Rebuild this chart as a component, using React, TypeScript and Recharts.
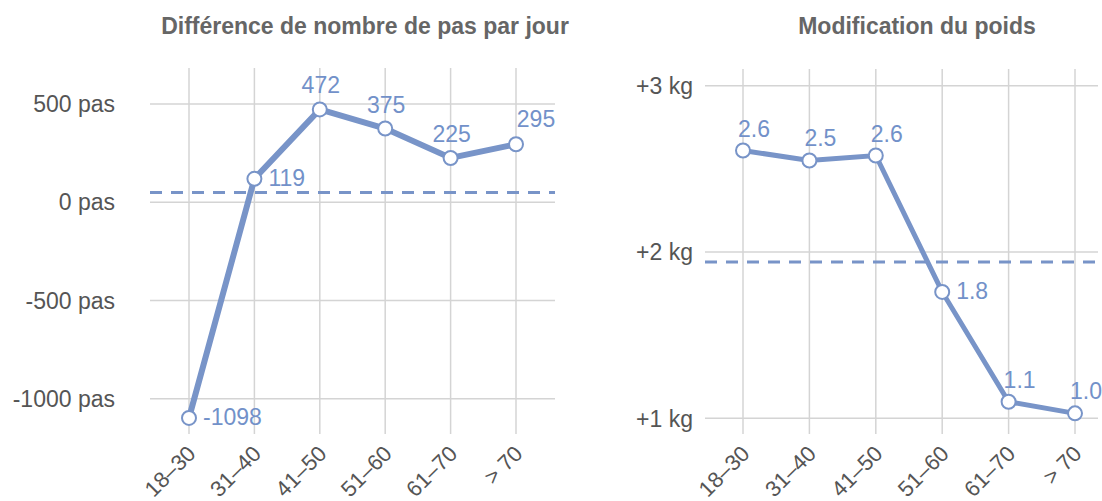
import { LineChart, Line, XAxis, YAxis, ReferenceLine, LabelList } from 'recharts';

const ageGroups = ['18–30', '31–40', '41–50', '51–60', '61–70', '> 70'];
const stepDiff = [-1098, 119, 472, 375, 225, 295];
const stepLabels = ['-1098', '119', '472', '375', '225', '295'];
const stepAvg = 49;
const stepTicks = [-1000, -500, 0, 500];

const weightDiff = [2.61, 2.55, 2.58, 1.76, 1.1, 1.03];
const weightLabels = ['2.6', '2.5', '2.6', '1.8', '1.1', '1.0'];
const weightAvg = 1.94;
const weightTicks = [1, 2, 3];

// where each value label sits relative to its dot
const stepPlacement = ['right', 'right', 'top', 'top', 'top', 'topRightFar'];
const weightPlacement = ['topRight', 'topRight', 'topRight', 'right', 'topRight', 'topRight'];

const BLUE = '#7894c8';
const LABEL_BLUE = '#7291c9';
const GRID = '#d4d4d4';
const TEXT = '#555';
const FONT = '"Liberation Sans", Arial, Helvetica, sans-serif';

const stepData = ageGroups.map((g, i) => ({ group: g, value: stepDiff[i] }));
const weightData = ageGroups.map((g, i) => ({ group: g, value: weightDiff[i] }));

const offsets: Record<string, { dx: number; dy: number; anchor: 'start' | 'middle' }> = {
  right: { dx: 14, dy: 7, anchor: 'start' },
  top: { dx: 1, dy: -16, anchor: 'middle' },
  topRight: { dx: 11, dy: -14, anchor: 'middle' },
  topRightFar: { dx: 20, dy: -17, anchor: 'middle' },
};

function makeLabel(labels: string[], placement: string[]) {
  return (props: any) => {
    const { x, y, index } = props;
    const o = offsets[placement[index]];
    return (
      <text
        x={x + o.dx}
        y={y + o.dy}
        textAnchor={o.anchor}
        fill={LABEL_BLUE}
        fontSize={23}
        fontFamily={FONT}
      >
        {labels[index]}
      </text>
    );
  };
}

function AgeTick(props: any) {
  const { x, y, payload } = props;
  return (
    <g transform={`translate(${x + 8},${y + 13})`}>
      <text
        x={0}
        y={0}
        textAnchor="end"
        transform="rotate(-45)"
        fill={TEXT}
        fontSize={22}
        fontFamily={FONT}
      >
        {payload.value}
      </text>
    </g>
  );
}

const titleStyle = {
  position: 'absolute' as const,
  top: 13,
  fontFamily: FONT,
  fontWeight: 700,
  fontSize: 23,
  color: '#666',
  whiteSpace: 'nowrap' as const,
  transform: 'translateX(-50%)',
};

function gridLines(ticks: number[]) {
  return [
    ...ticks.map((t) => <ReferenceLine key={`h${t}`} y={t} stroke={GRID} strokeWidth={1.5} />),
    ...ageGroups.map((g) => <ReferenceLine key={`v${g}`} x={g} stroke={GRID} strokeWidth={1.5} />),
  ];
}

export default function App() {
  return (
    <div style={{ position: 'absolute', left: 0, top: 0, width: 1102, height: 501, background: '#fff' }}>
      <div style={{ ...titleStyle, left: 365 }}>Différence de nombre de pas par jour</div>
      <div style={{ ...titleStyle, left: 917 }}>Modification du poids</div>

      <div style={{ position: 'absolute', left: 0, top: 0 }}>
        <LineChart width={570} height={501} data={stepData} margin={{ top: 68, right: 15, bottom: 7, left: 10 }}>
          <XAxis
            dataKey="group"
            axisLine={false}
            tickLine={false}
            height={60}
            padding={{ left: 39, right: 39 }}
            tick={<AgeTick />}
            interval={0}
          />
          <YAxis
            type="number"
            domain={[-1180, 683]}
            ticks={stepTicks}
            axisLine={false}
            tickLine={false}
            width={140}
            tickMargin={29}
            tickFormatter={(v: number) => `${v} pas`}
            tick={{ fill: TEXT, fontSize: 23, fontFamily: FONT }}
          />
          {gridLines(stepTicks)}
          <ReferenceLine y={stepAvg} stroke={BLUE} strokeWidth={3} strokeDasharray="12 9" />
          <Line
            type="linear"
            dataKey="value"
            stroke={BLUE}
            strokeWidth={6}
            dot={{ r: 7, fill: '#fff', stroke: BLUE, strokeWidth: 2 }}
            isAnimationActive={false}
          >
            <LabelList dataKey="value" content={makeLabel(stepLabels, stepPlacement)} />
          </Line>
        </LineChart>
      </div>

      <div style={{ position: 'absolute', left: 590, top: 0 }}>
        <LineChart width={512} height={501} data={weightData} margin={{ top: 69, right: 4, bottom: 7, left: 10 }}>
          <XAxis
            dataKey="group"
            axisLine={false}
            tickLine={false}
            height={60}
            padding={{ left: 38, right: 23 }}
            tick={<AgeTick />}
            interval={0}
          />
          <YAxis
            type="number"
            domain={[0.906, 3.1]}
            ticks={weightTicks}
            axisLine={false}
            tickLine={false}
            width={105}
            tickMargin={6}
            tickFormatter={(v: number) => `+${v} kg`}
            tick={{ fill: TEXT, fontSize: 23, fontFamily: FONT }}
          />
          {gridLines(weightTicks)}
          <ReferenceLine y={weightAvg} stroke={BLUE} strokeWidth={3} strokeDasharray="12 9" />
          <Line
            type="linear"
            dataKey="value"
            stroke={BLUE}
            strokeWidth={5}
            dot={{ r: 7, fill: '#fff', stroke: BLUE, strokeWidth: 2 }}
            isAnimationActive={false}
          >
            <LabelList dataKey="value" content={makeLabel(weightLabels, weightPlacement)} />
          </Line>
        </LineChart>
      </div>
    </div>
  );
}
